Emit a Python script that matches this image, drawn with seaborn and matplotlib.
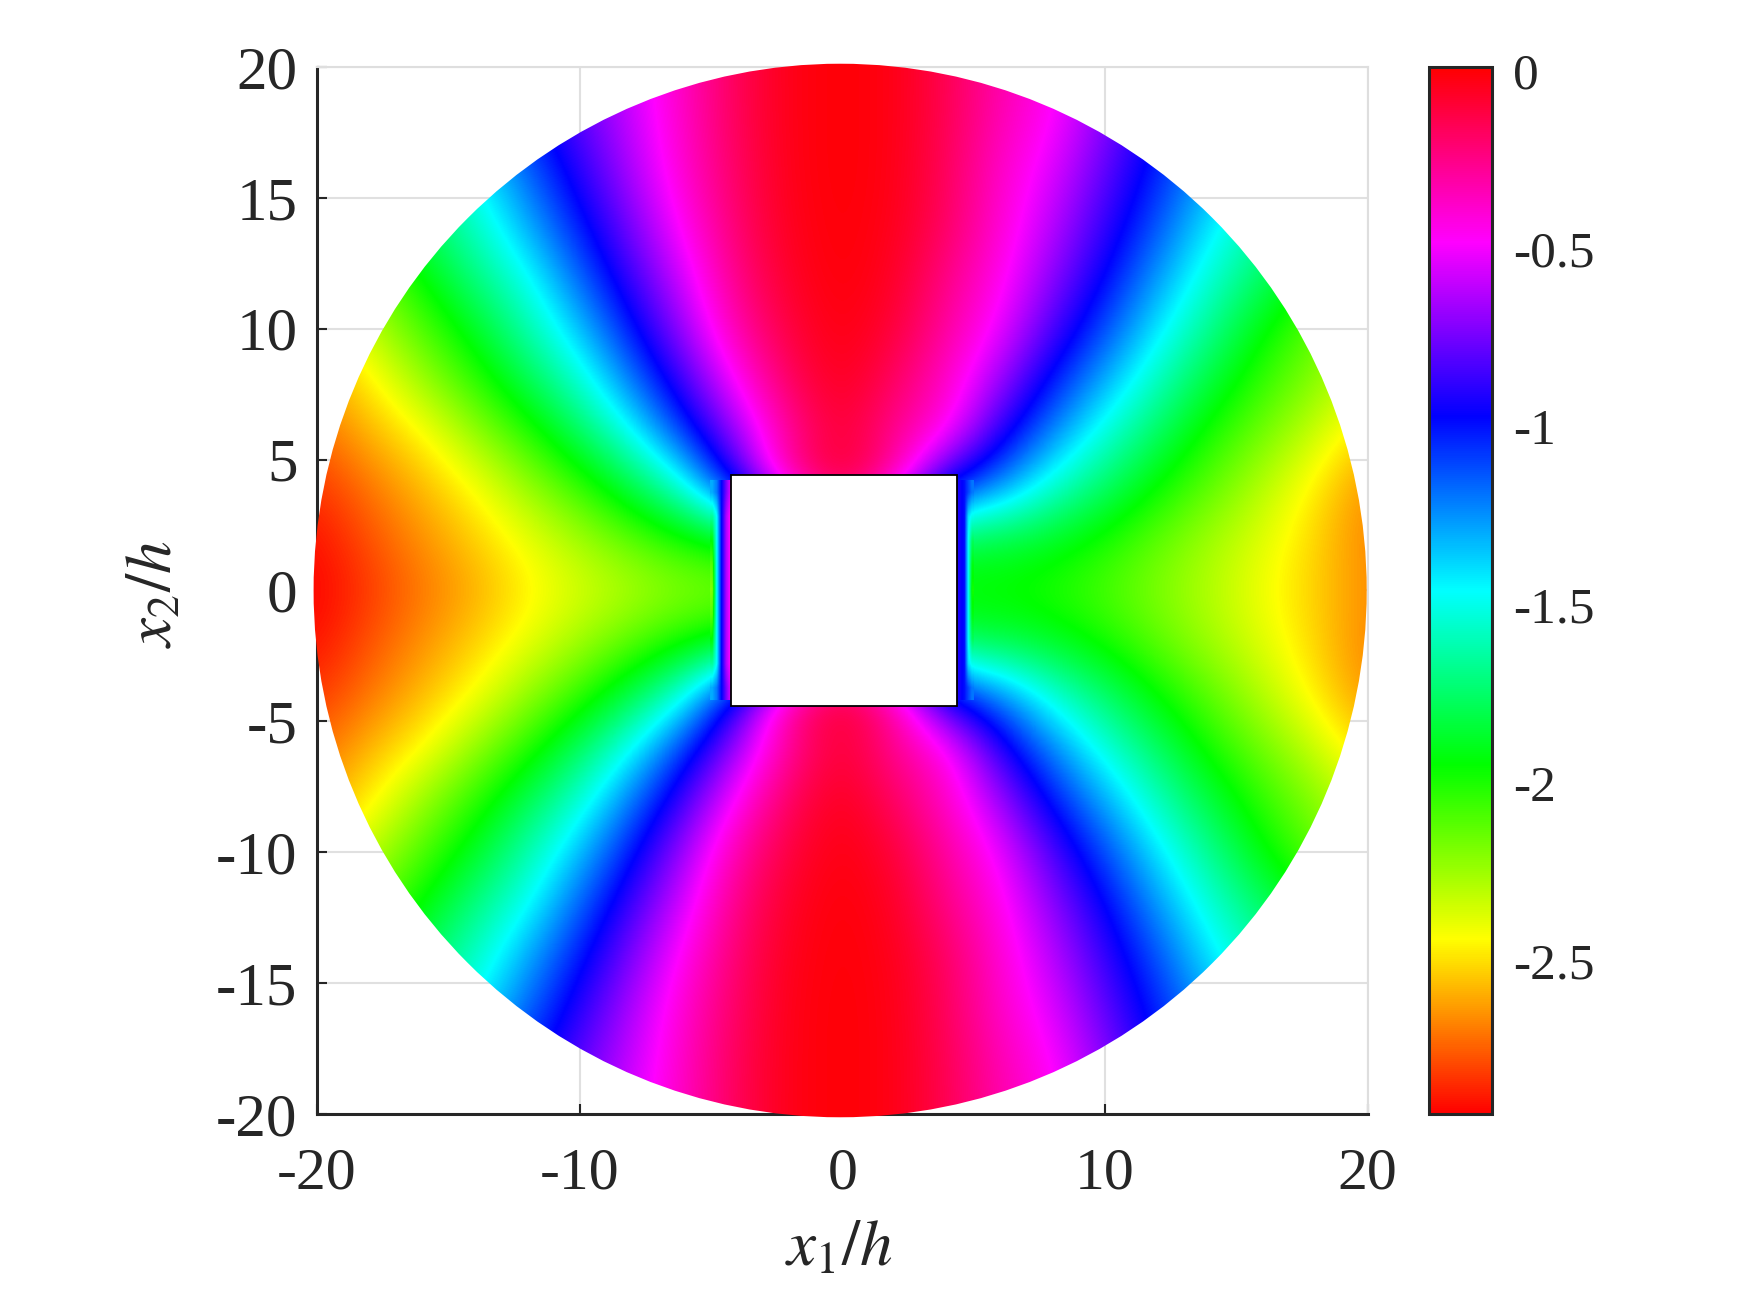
#libraries
import numpy as np
import seaborn as sns
from matplotlib import pyplot as plt
from matplotlib.colors import LinearSegmentedColormap
from matplotlib.patches import Ellipse, Rectangle

#grid, rows are y=20 down to y=0 (lower half is the mirror)
x_grid=[-20,-18,-16,-14,-12,-10,-8,-6,-4,-2,0,2,4,6,8,10,12,14,16,18,20]
row_y20=[-1.85,-1.62,-1.42,-1.18,-0.96,-0.75,-0.55,-0.35,-0.15,-0.03,0,-0.03,-0.15,-0.32,-0.45,-0.66,-0.90,-1.12,-1.33,-1.52,-1.72]
row_y18=[-1.95,-1.73,-1.50,-1.25,-1.02,-0.79,-0.58,-0.36,-0.15,-0.03,0,-0.03,-0.15,-0.34,-0.47,-0.71,-0.97,-1.20,-1.41,-1.60,-1.80]
row_y16=[-2.05,-1.84,-1.65,-1.45,-1.17,-0.89,-0.63,-0.38,-0.17,-0.03,0,-0.03,-0.17,-0.38,-0.54,-0.79,-1.04,-1.29,-1.52,-1.71,-1.90]
row_y14=[-2.20,-2.00,-1.78,-1.57,-1.30,-1.01,-0.72,-0.44,-0.19,-0.04,0,-0.04,-0.18,-0.40,-0.61,-0.87,-1.13,-1.42,-1.63,-1.84,-2.05]
row_y12=[-2.33,-2.17,-1.94,-1.70,-1.48,-1.16,-0.84,-0.54,-0.23,-0.06,0,-0.06,-0.25,-0.44,-0.70,-0.97,-1.27,-1.54,-1.76,-1.97,-2.20]
row_y10=[-2.52,-2.31,-2.10,-1.88,-1.62,-1.34,-1.00,-0.65,-0.30,-0.10,-0.01,-0.10,-0.30,-0.51,-0.82,-1.12,-1.42,-1.68,-1.94,-2.13,-2.33]
row_y08=[-2.62,-2.47,-2.25,-2.04,-1.80,-1.54,-1.20,-0.83,-0.45,-0.16,-0.03,-0.18,-0.38,-0.66,-1.02,-1.31,-1.59,-1.84,-2.05,-2.21,-2.38]
row_y06=[-2.73,-2.58,-2.45,-2.24,-2.03,-1.77,-1.47,-1.07,-0.65,-0.27,-0.07,-0.28,-0.43,-0.90,-1.24,-1.53,-1.77,-2.00,-2.17,-2.34,-2.53]
row_y04=[-2.83,-2.70,-2.57,-2.43,-2.24,-2.05,-1.81,-1.50,-0.90,-0.25,-0.05,-0.30,-1.00,-1.23,-1.54,-1.75,-1.96,-2.13,-2.30,-2.47,-2.66]
row_y02=[-2.90,-2.77,-2.65,-2.53,-2.40,-2.26,-2.12,-1.98,-1.90,-1.40,-0.60,-1.30,-1.80,-1.82,-1.88,-1.99,-2.13,-2.26,-2.38,-2.52,-2.68]
row_y00=[-2.93,-2.82,-2.70,-2.60,-2.47,-2.37,-2.29,-2.22,-2.20,-2.20,-2.10,-2.00,-1.98,-1.98,-2.02,-2.10,-2.20,-2.30,-2.42,-2.53,-2.66]

#thin layers along the hole walls, top row down to the middle row
left_wall=[[-1.30,-1.20,-0.98,-0.75,-0.55],
           [-1.66,-1.46,-0.98,-0.65,-0.45],
           [-1.95,-1.46,-0.98,-0.65,-0.45],
           [-2.12,-1.46,-0.98,-0.65,-0.45],
           [-2.20,-1.46,-0.98,-0.65,-0.45]]
right_wall=[[-0.90,-0.95,-1.00,-1.10,-1.20],
            [-0.90,-0.95,-1.00,-1.40,-1.50],
            [-0.90,-0.95,-1.00,-1.46,-1.78],
            [-0.90,-0.95,-1.00,-1.46,-1.92],
            [-0.90,-0.95,-1.00,-1.46,-1.98]]

#ticks
xy_ticks=[-20,-15,-10,-5,0,5,10,15,20]
x_ticks=[-20,-10,0,10,20]
cbar_ticks=[0,-0.5,-1,-1.5,-2,-2.5]
cbar_labels=['0','-0.5','-1','-1.5','-2','-2.5']
vmin,vmax=-2.93,0.01
hues=['#ff0000','#ffff00','#00ff00','#00ffff','#0000ff','#ff00ff','#ff0000']

sns.set_theme(style='white')
plt.rcParams['font.family']=['Liberation Serif','DejaVu Serif']
plt.rcParams['mathtext.fontset']='stix'

upper=[row_y20,row_y18,row_y16,row_y14,row_y12,row_y10,row_y08,row_y06,row_y04,row_y02,row_y00]
field=np.array(upper+upper[-2::-1])
cmap=LinearSegmentedColormap.from_list('hsv_full',hues,N=512)

W,H=1750,1313
fig=plt.figure(figsize=(W/100,H/100),dpi=100)
ax=fig.add_axes([317/W,(H-1114)/H,1050.5/W,1047/H])
cax=fig.add_axes([1429/W,(H-1114)/H,63/W,1047/H])

hmap=sns.heatmap(field,ax=ax,cbar_ax=cax,cmap=cmap,vmin=vmin,vmax=vmax,
                 xticklabels=False,yticklabels=False,cbar_kws={'ticks':cbar_ticks})

#heatmap cells are 2 units wide, cell centres sit on the grid values
def cx(v): return (v+20)/2+0.5
def cy(v): return (20-v)/2+0.5
def rx(v): return v/2

disk=Ellipse((cx(-0.08),cy(0)),rx(40.1),rx(40.25),transform=ax.transData)
mesh=hmap.collections[0]
mesh.set_visible(False)

#smooth the cells in the colour data, clipped to the disk
img=ax.imshow(field,cmap=cmap,vmin=vmin,vmax=vmax,interpolation='bicubic',interpolation_stage='data',
              extent=(0,21,21,0),aspect='auto',zorder=3)
img.set_clip_path(disk)
img.set_clip_box(fig.bbox)

#wall layers
lw=np.array(left_wall+left_wall[-2::-1])
rw=np.array(right_wall+right_wall[-2::-1])
for wall,x0,x1 in [(lw,-5.05,-4.20),(rw,4.30,5.00)]:
    ax.imshow(wall,cmap=cmap,vmin=vmin,vmax=vmax,interpolation='bilinear',interpolation_stage='data',
              extent=(cx(x0),cx(x1),cy(-4.2),cy(4.2)),aspect='auto',zorder=3.5)

#hole
ax.add_patch(Rectangle((cx(-4.22),cy(4.40)),rx(8.60),rx(8.82),facecolor='white',edgecolor='black',lw=1.3,zorder=4))

ax.set_xlim(cx(-20),cx(20))
ax.set_ylim(cy(-20),cy(20))

#axes dressing
ax.set_xticks([cx(v) for v in x_ticks])
ax.set_xticklabels([str(v) for v in x_ticks],fontsize=43)
ax.set_yticks([cy(v) for v in xy_ticks])
ax.set_yticklabels([str(v) for v in xy_ticks],fontsize=44)
ax.tick_params(axis='x',direction='in',length=7,width=1.5,color='#262626',labelcolor='#262626',pad=24,bottom=True)
ax.tick_params(axis='y',direction='in',length=7,width=1.5,color='#262626',labelcolor='#262626',pad=14,left=True)
ax.grid(True,color='#e0e0e0',lw=1.5)
ax.set_axisbelow(True)
for side in ['left','bottom']:
    ax.spines[side].set_visible(True)
    ax.spines[side].set_color('#262626')
    ax.spines[side].set_linewidth(2.2)
for side in ['top','right']:
    ax.spines[side].set_visible(True)
    ax.spines[side].set_color('#dedede')
    ax.spines[side].set_linewidth(1.5)
fig.text(839/W,1-1250/H,r'$x_1/h$',fontsize=47,ha='center',va='center',color='#262626')
fig.text(156/W,1-594/H,r'$x_2/h$',fontsize=47,ha='center',va='center',rotation=90,color='#262626')

#colorbar
cbar=mesh.colorbar
cbar.set_ticklabels(cbar_labels)
cbar.ax.tick_params(direction='in',length=7,width=1.5,color='#262626',labelcolor='#262626',labelsize=37,pad=15,right=True)
cbar.outline.set_visible(True)
cbar.outline.set_edgecolor('#262626')
cbar.outline.set_linewidth(2.2)

fig.savefig('out.png',dpi=100,facecolor='white')
